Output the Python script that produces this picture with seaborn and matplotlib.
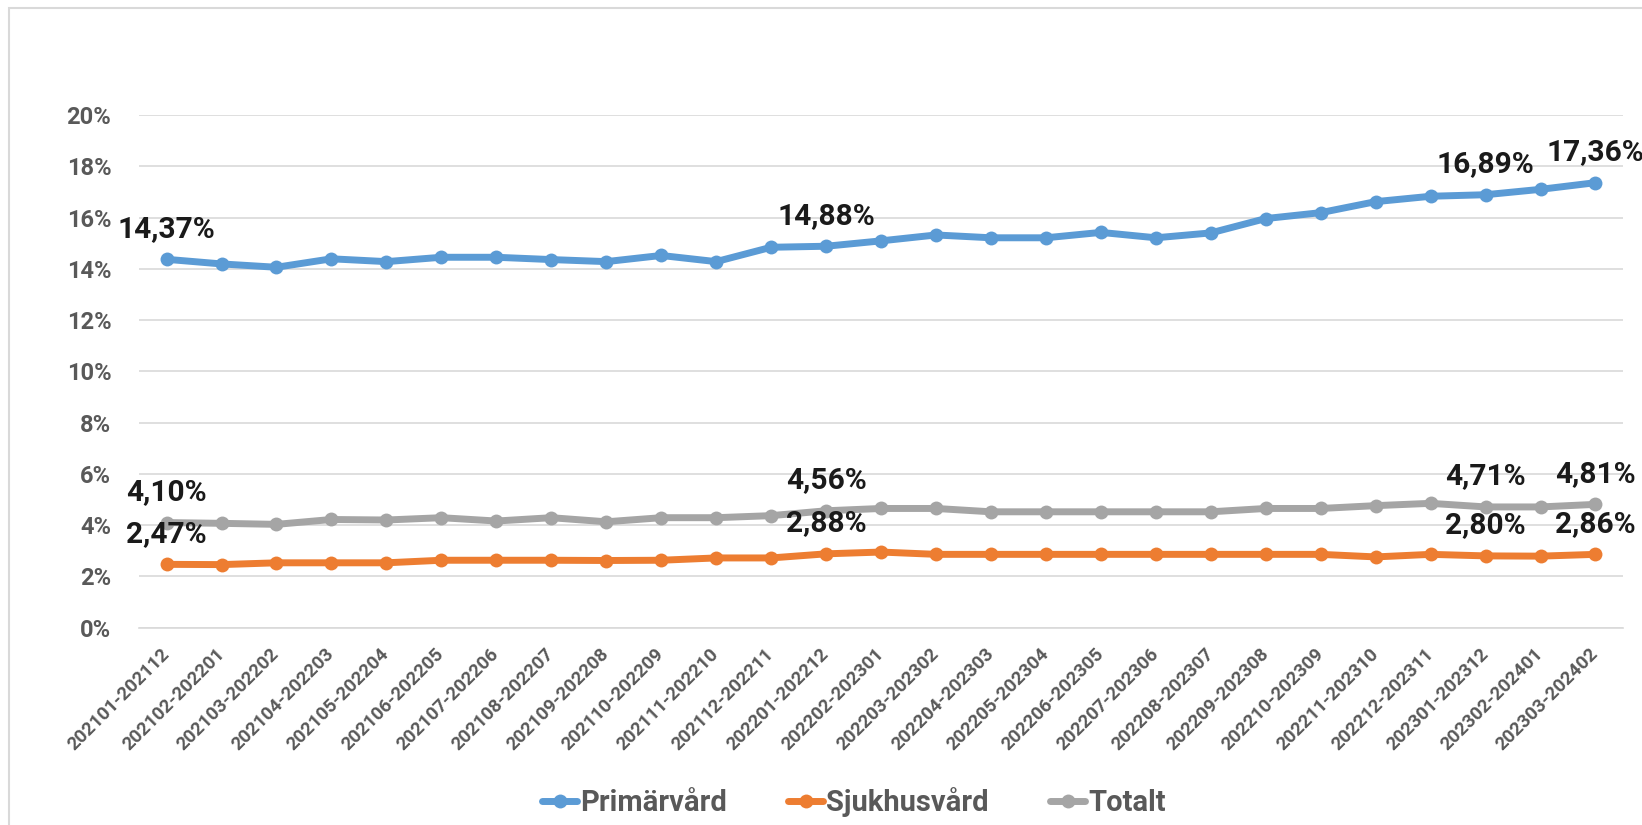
import numpy as np
import pandas as pd
import matplotlib
matplotlib.use("Agg")
import matplotlib.pyplot as plt
import seaborn as sns
from matplotlib.patches import Rectangle

# period labels (rolling 12 months)
periods = ['202101-202112', '202102-202201', '202103-202202', '202104-202203',
           '202105-202204', '202106-202205', '202107-202206', '202108-202207',
           '202109-202208', '202110-202209', '202111-202210', '202112-202211',
           '202201-202212', '202202-202301', '202203-202302', '202204-202303',
           '202205-202304', '202206-202305', '202207-202306', '202208-202307',
           '202209-202308', '202210-202309', '202211-202310', '202212-202311',
           '202301-202312', '202302-202401', '202303-202402']

# values in percent
primarvard = [14.37, 14.19, 14.06, 14.39, 14.28, 14.45, 14.45, 14.36, 14.28, 14.52,
              14.28, 14.84, 14.88, 15.09, 15.32, 15.21, 15.21, 15.42, 15.21, 15.40,
              15.96, 16.19, 16.62, 16.83, 16.89, 17.10, 17.36]
sjukhusvard = [2.47, 2.46, 2.53, 2.53, 2.53, 2.63, 2.63, 2.63, 2.62, 2.63,
               2.72, 2.72, 2.88, 2.95, 2.86, 2.86, 2.86, 2.86, 2.86, 2.86,
               2.86, 2.86, 2.76, 2.86, 2.80, 2.79, 2.86]
totalt = [4.10, 4.07, 4.03, 4.22, 4.20, 4.29, 4.16, 4.29, 4.13, 4.29,
          4.29, 4.37, 4.56, 4.65, 4.65, 4.52, 4.52, 4.52, 4.52, 4.52,
          4.65, 4.65, 4.76, 4.85, 4.71, 4.71, 4.81]

labelled = [0, 12, 24, 26]  # points that carry a data label
yticks = list(range(0, 21, 2))

series = [('Primärvård', primarvard, '#5B9BD5'),
          ('Sjukhusvård', sjukhusvard, '#ED7D31'),
          ('Totalt', totalt, '#A5A5A5')]

sns.set_style("white")
plt.rcParams['font.family'] = ['Roboto', 'DejaVu Sans']

fig = plt.figure(figsize=(16.42, 8.25), dpi=100)
ax = fig.add_axes([0.0847, 0.2392, 0.9037, 0.6214])

x = np.arange(len(periods))
for name, vals, col in series:
    sns.lineplot(x=x, y=vals, ax=ax, color=col, linewidth=5, marker='o',
                 markersize=10, markeredgewidth=0, label=name, zorder=3)
    for i in labelled:
        ax.annotate(f"{vals[i]:.2f}%".replace('.', ','), (x[i], vals[i]),
                    xytext=(0, 22), textcoords='offset points',
                    ha='center', va='center', fontsize=21.5, fontweight='bold',
                    color='#1a1a1a', zorder=4)

ax.set_xlim(-0.5, len(periods) - 0.5)
ax.set_ylim(0, 20)
ax.set_yticks(yticks)
ax.set_yticklabels([f"{t}%" for t in yticks])
ax.set_xticks(x)
ax.set_xticklabels(periods, rotation=45, ha='right', va='center',
                   rotation_mode='anchor')
ax.set_xticks(np.arange(-0.5, len(periods)), minor=True)
ax.tick_params(axis='x', which='major', length=0, pad=17, labelsize=13.5,
               labelcolor='#595959')
ax.tick_params(axis='x', which='minor', length=7, width=1.2, color='#D9D9D9')
ax.tick_params(axis='y', length=0, pad=20, labelsize=17, labelcolor='#595959')
for lab in ax.get_xticklabels() + ax.get_yticklabels():
    lab.set_fontweight('bold')

ax.grid(axis='y', color='#D9D9D9', linewidth=1.2, zorder=0)
ax.grid(axis='x', visible=False)
for s in ['left', 'right', 'top']:
    ax.spines[s].set_visible(False)
ax.spines['bottom'].set_color('#D9D9D9')
ax.spines['bottom'].set_linewidth(1.2)
ax.set_xlabel('')
ax.set_ylabel('')

leg = ax.legend(loc='lower center', bbox_to_anchor=(0.52, -0.022), bbox_transform=fig.transFigure,
                ncol=3, frameon=False, handlelength=1.2, columnspacing=2.1,
                handletextpad=0.1, prop={'size': 21, 'weight': 'bold'})
for t in leg.get_texts():
    t.set_color('#595959')

fig.patches.append(Rectangle((9 / 1642, -0.1), 1.2, 1 - 8 / 825 + 0.1,
                             transform=fig.transFigure, fill=False,
                             edgecolor='#D9D9D9', linewidth=1.5))

fig.savefig('out.png', dpi=100)
